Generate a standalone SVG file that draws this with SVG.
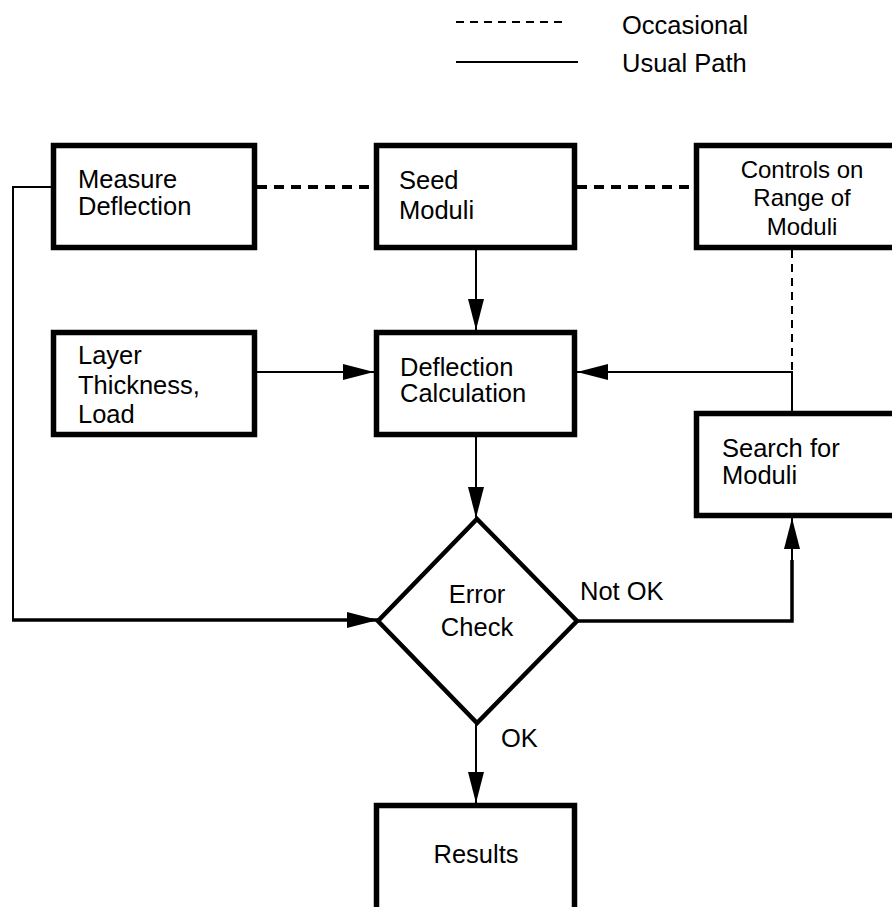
<svg xmlns="http://www.w3.org/2000/svg" width="892" height="907" viewBox="0 0 892 907">
<style>
  .box { fill: #fff; stroke: #000; stroke-width: 5.5; }
  .dia { fill: #fff; stroke: #000; stroke-width: 4.5; stroke-linejoin: miter; }
  .t { font-family: "Liberation Sans", Arial, sans-serif; font-size: 25.5px; fill: #000; }
  .tc { font-family: "Liberation Sans", Arial, sans-serif; font-size: 24px; fill: #000; text-anchor: middle; }
  .mid { text-anchor: middle; }
  .ln { fill: none; stroke: #000; stroke-width: 2; }
  .thick { fill: none; stroke: #000; stroke-width: 3.5; }
  .dash { fill: none; stroke: #000; stroke-width: 4; stroke-dasharray: 10 7; }
  .dthin { fill: none; stroke: #000; stroke-width: 2; stroke-dasharray: 8 6; }
</style>
<defs>
  <marker id="ah" markerUnits="userSpaceOnUse" markerWidth="32" markerHeight="16" refX="31" refY="8" orient="auto">
    <path d="M0,0 L31,8 L0,16 Z" fill="#000"/>
  </marker>
</defs>

<g id="legend">
  <line x1="456" y1="22" x2="568" y2="22" class="dthin" stroke-dasharray="11 8"/>
  <line x1="456" y1="62" x2="578" y2="62" class="ln"/>
  <text x="622" y="34" class="t">Occasional</text>
  <text x="622" y="72" class="t">Usual Path</text>
</g>

<g id="connectors">
  <line x1="257" y1="187" x2="374" y2="187" class="dash"/>
  <line x1="577" y1="187" x2="694" y2="187" class="dash"/>
  <line x1="792" y1="250" x2="792" y2="372" class="dthin"/>
  <line x1="476" y1="250" x2="476" y2="330" class="ln" marker-end="url(#ah)"/>
  <line x1="257" y1="372" x2="374" y2="372" class="ln" marker-end="url(#ah)"/>
  <polyline points="792,411 792,372 577,372" class="ln" marker-end="url(#ah)"/>
  <line x1="476" y1="437" x2="476" y2="518" class="ln" marker-end="url(#ah)"/>
  <polyline points="51,187 13,187 13,620" class="ln"/>
  <line x1="12" y1="620" x2="378" y2="620" class="thick" marker-end="url(#ah)"/>
  <polyline points="577,621 792,621 792,560" class="thick"/>
  <line x1="792" y1="562" x2="792" y2="518" class="ln" marker-end="url(#ah)"/>
  <line x1="476" y1="723" x2="476" y2="803" class="ln" marker-end="url(#ah)"/>
  <text x="580" y="600" class="t">Not OK</text>
  <text x="501" y="747" class="t">OK</text>
</g>

<g id="measure">
  <rect x="53.5" y="145.5" width="201" height="102" class="box"/>
  <text x="78" y="188" class="t">Measure</text>
  <text x="78" y="215" class="t">Deflection</text>
</g>

<g id="seed">
  <rect x="376.5" y="145.5" width="198" height="102" class="box"/>
  <text x="399" y="189" class="t">Seed</text>
  <text x="399" y="219" class="t">Moduli</text>
</g>

<g id="controls">
  <rect x="696.5" y="145.5" width="205" height="102" class="box"/>
  <text x="802" y="178" class="tc">Controls on</text>
  <text x="802" y="206" class="tc">Range of</text>
  <text x="802" y="235" class="tc">Moduli</text>
</g>

<g id="layer">
  <rect x="53.5" y="332.5" width="201" height="102" class="box"/>
  <text x="78" y="364" class="t">Layer</text>
  <text x="78" y="394" class="t">Thickness,</text>
  <text x="78" y="423" class="t">Load</text>
</g>

<g id="deflection">
  <rect x="376.5" y="332.5" width="198" height="102" class="box"/>
  <text x="400" y="376" class="t">Deflection</text>
  <text x="400" y="402" class="t">Calculation</text>
</g>

<g id="search">
  <rect x="696.5" y="413.5" width="205" height="102" class="box"/>
  <text x="722" y="457" class="t">Search for</text>
  <text x="722" y="484" class="t">Moduli</text>
</g>

<g id="errorcheck">
  <polygon points="477,519 577,621 477,723 378,621" class="dia"/>
  <text x="477" y="603" class="t mid">Error</text>
  <text x="477" y="636" class="t mid">Check</text>
</g>

<g id="results">
  <rect x="376.5" y="805.5" width="198" height="115" class="box"/>
  <text x="476" y="863" class="t mid">Results</text>
</g>
</svg>
